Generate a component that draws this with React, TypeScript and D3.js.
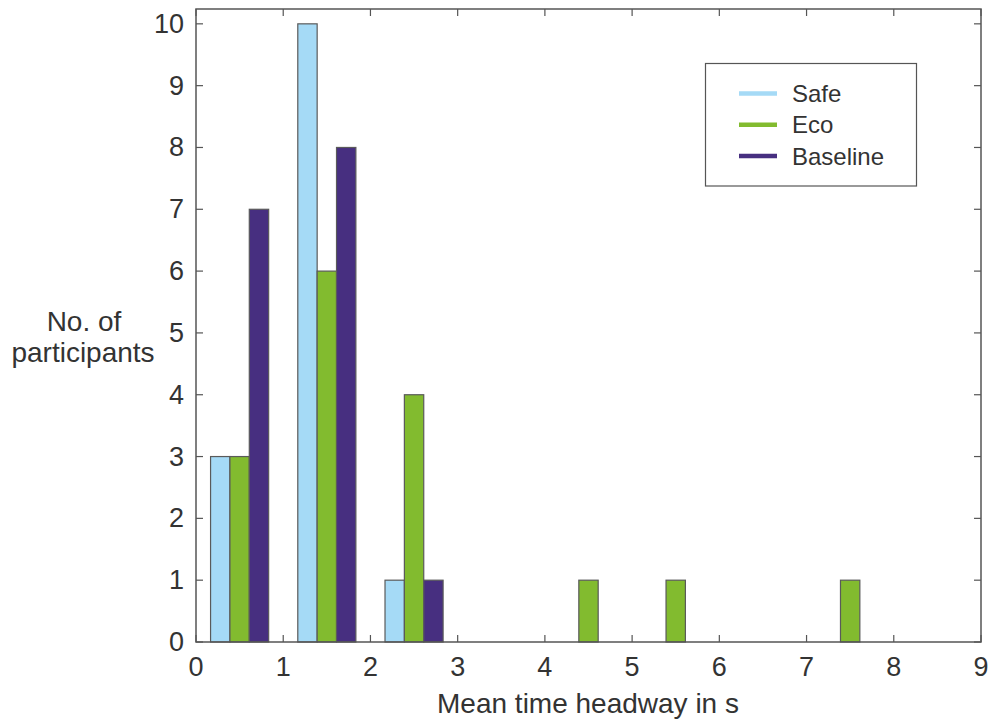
import React from "react";
import * as d3 from "d3";

// Histogram bins (centres at 0.5 s, 1.5 s, ...)
const binCenters = [0.5, 1.5, 2.5, 3.5, 4.5, 5.5, 6.5, 7.5, 8.5];
const safeCounts = [3, 10, 1, 0, 0, 0, 0, 0, 0];
const ecoCounts = [3, 6, 4, 0, 1, 1, 0, 1, 0];
const baselineCounts = [7, 8, 1, 0, 0, 0, 0, 0, 0];

const seriesNames = ["Safe", "Eco", "Baseline"];
const seriesColors = ["#a5daf6", "#82bb2f", "#472f80"];
const xTicks = [0, 1, 2, 3, 4, 5, 6, 7, 8, 9];
const yTicks = [0, 1, 2, 3, 4, 5, 6, 7, 8, 9, 10];

const W = 994;
const H = 720;
const left = 196;
const right = 981;
const top = 9;
const bottom = 642;

export default function App() {
  const x = d3.scaleLinear().domain([0, 9]).range([left, right]);
  const y = d3.scaleLinear().domain([0, 10.24]).range([bottom, top]);
  const series = [safeCounts, ecoCounts, baselineCounts];
  const barW = 0.222;
  const textColor = "#333";
  const frame = "#555";
  const font = "Liberation Sans, Arial, sans-serif";
  const tickLen = 7;

  return (
    <svg width={W} height={H} style={{ position: "absolute", left: 0, top: 0 }}>
      <rect x={0} y={0} width={W} height={H} fill="#fff" />
      {series.map((vals, si) =>
        vals.map((v, i) =>
          v > 0 ? (
            <rect
              key={`${si}-${i}`}
              x={x(binCenters[i] + (si - 1.5) * barW)}
              y={y(v)}
              width={x(barW) - x(0)}
              height={y(0) - y(v)}
              fill={seriesColors[si]}
              stroke="#5a5a5a"
              strokeWidth={1.2}
            />
          ) : null
        )
      )}
      {/* axis frame */}
      <rect x={left} y={top} width={right - left} height={bottom - top} fill="none" stroke={frame} strokeWidth={1.5} />
      {xTicks.map((t) => (
        <g key={`xt${t}`}>
          <line x1={x(t)} x2={x(t)} y1={bottom} y2={bottom - tickLen} stroke={frame} strokeWidth={1.2} />
          <line x1={x(t)} x2={x(t)} y1={top} y2={top + tickLen} stroke={frame} strokeWidth={1.2} />
          <text x={x(t)} y={676} textAnchor="middle" fontSize={27} fontFamily={font} fill={textColor}>
            {t}
          </text>
        </g>
      ))}
      {yTicks.map((t) => (
        <g key={`yt${t}`}>
          <line x1={left} x2={left + tickLen} y1={y(t)} y2={y(t)} stroke={frame} strokeWidth={1.2} />
          <line x1={right} x2={right - tickLen} y1={y(t)} y2={y(t)} stroke={frame} strokeWidth={1.2} />
          <text x={184} y={y(t) + 9} textAnchor="end" fontSize={27} fontFamily={font} fill={textColor}>
            {t}
          </text>
        </g>
      ))}
      <text x={588} y={713} textAnchor="middle" fontSize={28} fontFamily={font} fill={textColor}>
        Mean time headway in s
      </text>
      <text x={84} y={331} textAnchor="middle" fontSize={28} fontFamily={font} fill={textColor}>
        No. of
      </text>
      <text x={83} y={362} textAnchor="middle" fontSize={28} fontFamily={font} fill={textColor}>
        participants
      </text>
      {/* legend */}
      <rect x={705.5} y={63.5} width={211} height={122.5} fill="#fff" stroke={frame} strokeWidth={1.2} />
      {seriesNames.map((name, i) => (
        <g key={name}>
          <line x1={739} x2={777} y1={93.5 + i * 31.3} y2={93.5 + i * 31.3} stroke={seriesColors[i]} strokeWidth={4.5} />
          <text x={792} y={101.5 + i * 31.6} fontSize={24} fontFamily={font} fill={textColor}>
            {name}
          </text>
        </g>
      ))}
    </svg>
  );
}
